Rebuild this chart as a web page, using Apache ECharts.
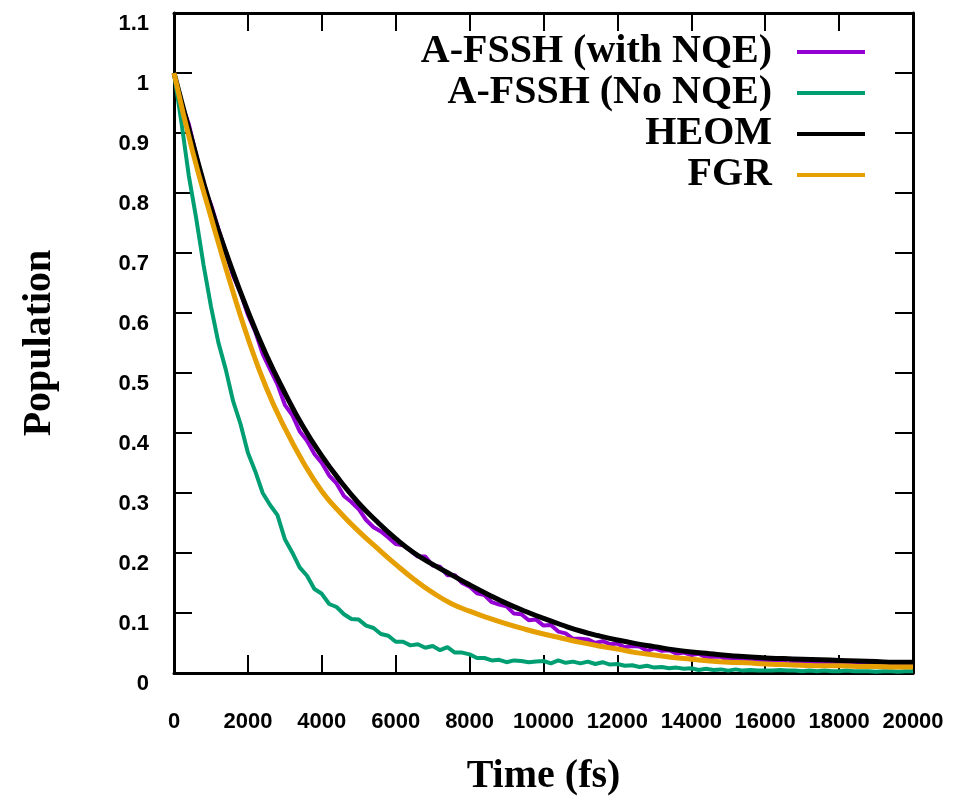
<!DOCTYPE html>
<html>
<head>
<meta charset="utf-8">
<script src="https://cdn.jsdelivr.net/npm/echarts@6/dist/echarts.min.js"></script>
<style>
  html, body { margin: 0; padding: 0; background: #fff; }
  #main { width: 961px; height: 799px; }
</style>
</head>
<body>
<div id="main"></div>
<script>
// population decay, time in fs

var seriesNames = ['A-FSSH (with NQE)', 'A-FSSH (No NQE)', 'HEOM', 'FGR'];
var seriesColors = ['#9400d3', '#009e73', '#000000', '#e69f00'];

// smooth curves, sampled every 500 fs
var stepSmooth = 500;
var heomPop = [
    1.0, 0.885, 0.776, 0.685, 0.603, 0.53, 0.467, 0.41, 0.362, 0.32,
    0.283, 0.252, 0.224, 0.2, 0.181, 0.164, 0.147, 0.131, 0.116, 0.103,
    0.091, 0.08, 0.07, 0.062, 0.055, 0.049, 0.044, 0.039, 0.035, 0.032,
    0.029, 0.027, 0.025, 0.024, 0.023, 0.022, 0.021, 0.02, 0.019, 0.018,
    0.018
];
var fgrPop = [
    1.0, 0.87, 0.76, 0.655, 0.558, 0.475, 0.408, 0.351, 0.303, 0.267,
    0.236, 0.208, 0.181, 0.156, 0.134, 0.116, 0.103, 0.092, 0.082, 0.073,
    0.065, 0.058, 0.051, 0.045, 0.04, 0.034, 0.03, 0.026, 0.023, 0.02,
    0.018, 0.017, 0.015, 0.014, 0.013, 0.012, 0.012, 0.011, 0.011, 0.01,
    0.01
];

// noisy trajectories, sampled every 200 fs
var stepNoisy = 200;
var fsshNqePop = [
    1.0, 0.948, 0.915, 0.863, 0.811, 0.781, 0.74, 0.702, 0.662, 0.634,
    0.597, 0.569, 0.532, 0.506, 0.481, 0.447, 0.43, 0.403, 0.387, 0.365,
    0.35, 0.329, 0.316, 0.295, 0.285, 0.273, 0.255, 0.243, 0.236, 0.226,
    0.215, 0.213, 0.204, 0.194, 0.194, 0.179, 0.177, 0.163, 0.163, 0.15,
    0.144, 0.133, 0.13, 0.118, 0.114, 0.111, 0.099, 0.098, 0.088, 0.089,
    0.079, 0.08, 0.069, 0.066, 0.057, 0.057, 0.056, 0.05, 0.053, 0.048,
    0.049, 0.043, 0.045, 0.044, 0.037, 0.041, 0.037, 0.038, 0.032, 0.034,
    0.03, 0.032, 0.026, 0.027, 0.027, 0.022, 0.024, 0.021, 0.023, 0.019,
    0.021, 0.018, 0.02, 0.016, 0.018, 0.017, 0.015, 0.018, 0.015, 0.017,
    0.015, 0.017, 0.014, 0.016, 0.013, 0.015, 0.014, 0.016, 0.013, 0.015,
    0.014
];
var fsshNoNqePop = [
    1.0, 0.918, 0.829, 0.758, 0.68, 0.611, 0.551, 0.506, 0.453, 0.415,
    0.367, 0.336, 0.3, 0.28, 0.263, 0.223, 0.201, 0.176, 0.162, 0.14,
    0.132, 0.115, 0.11, 0.098, 0.09, 0.089, 0.079, 0.075, 0.065, 0.062,
    0.052, 0.052, 0.046, 0.048, 0.042, 0.045, 0.038, 0.043, 0.034, 0.034,
    0.031, 0.025, 0.025, 0.021, 0.022, 0.018, 0.021, 0.02, 0.018, 0.019,
    0.02, 0.016, 0.021, 0.017, 0.019, 0.016, 0.019, 0.015, 0.018, 0.014,
    0.015, 0.012, 0.013, 0.01, 0.012, 0.009, 0.01, 0.008, 0.009, 0.007,
    0.008, 0.005, 0.007, 0.005, 0.006, 0.004, 0.006, 0.004, 0.005, 0.004,
    0.004, 0.004, 0.005, 0.004, 0.004, 0.003, 0.004, 0.003, 0.004, 0.003,
    0.003, 0.004, 0.003, 0.003, 0.003, 0.002, 0.003, 0.003, 0.002, 0.003,
    0.003
];

function pairs(values, step) {
    var out = [];
    for (var i = 0; i < values.length; i++) {
        out.push([i * step, values[i]]);
    }
    return out;
}

var tickFont = {
    fontFamily: 'Liberation Sans',
    fontWeight: 'bold',
    fontSize: 22,
    color: '#000'
};
var titleFont = {
    fontFamily: 'Liberation Serif',
    fontWeight: 'bold',
    fontSize: 40,
    color: '#000'
};
var frameLine = { show: true, onZero: false, lineStyle: { color: '#000', width: 3 } };
var innerTick = { show: true, inside: true, length: 18, lineStyle: { color: '#000', width: 2 } };

function makeSeries(idx, data, width, smooth) {
    return {
        name: seriesNames[idx],
        type: 'line',
        data: data,
        smooth: smooth,
        showSymbol: false,
        symbol: 'none',
        color: seriesColors[idx],
        lineStyle: { color: seriesColors[idx], width: width },
        itemStyle: { color: seriesColors[idx] },
        z: 2 + idx
    };
}

var myChart = echarts.init(document.getElementById('main'));

var option = {
    animation: false,
    backgroundColor: '#fff',
    grid: {
        left: 174,
        top: 13,
        width: 739,
        height: 660,
        containLabel: false,
        outerBoundsMode: 'none'
    },
    legend: {
        orient: 'vertical',
        right: 91,
        top: 27,
        align: 'right',
        icon: 'rect',
        itemWidth: 68,
        itemHeight: 4,
        itemGap: 1,
        data: seriesNames,
        textStyle: {
            fontFamily: 'Liberation Serif',
            fontWeight: 'bold',
            fontSize: 40,
            lineHeight: 40,
            color: '#000',
            padding: [0, 20, 0, 0]
        }
    },
    xAxis: [
        {
            type: 'value',
            min: 0,
            max: 20000,
            interval: 2000,
            position: 'bottom',
            name: 'Time (fs)',
            nameLocation: 'middle',
            nameGap: 84,
            nameTextStyle: titleFont,
            axisLine: frameLine,
            axisTick: innerTick,
            splitLine: { show: false },
            axisLabel: Object.assign({ margin: 38, formatter: function (v) { return String(v); } }, tickFont)
        },
        {
            type: 'value',
            min: 0,
            max: 20000,
            interval: 2000,
            position: 'top',
            axisLine: frameLine,
            axisTick: innerTick,
            splitLine: { show: false },
            axisLabel: { show: false }
        }
    ],
    yAxis: [
        {
            type: 'value',
            min: 0,
            max: 1.1,
            interval: 0.1,
            position: 'left',
            name: 'Population',
            nameLocation: 'middle',
            nameGap: 114,
            nameTextStyle: titleFont,
            axisLine: frameLine,
            axisTick: innerTick,
            splitLine: { show: false },
            axisLabel: Object.assign({ margin: 25, verticalAlign: 'top' }, tickFont)
        },
        {
            type: 'value',
            min: 0,
            max: 1.1,
            interval: 0.1,
            position: 'right',
            axisLine: frameLine,
            axisTick: innerTick,
            splitLine: { show: false },
            axisLabel: { show: false }
        }
    ],
    series: [
        makeSeries(0, pairs(fsshNqePop, stepNoisy), 4, false),
        makeSeries(1, pairs(fsshNoNqePop, stepNoisy), 4, false),
        makeSeries(2, pairs(heomPop, stepSmooth), 5, true),
        makeSeries(3, pairs(fgrPop, stepSmooth), 5, true)
    ]
};

myChart.setOption(option);
</script>
</body>
</html>
